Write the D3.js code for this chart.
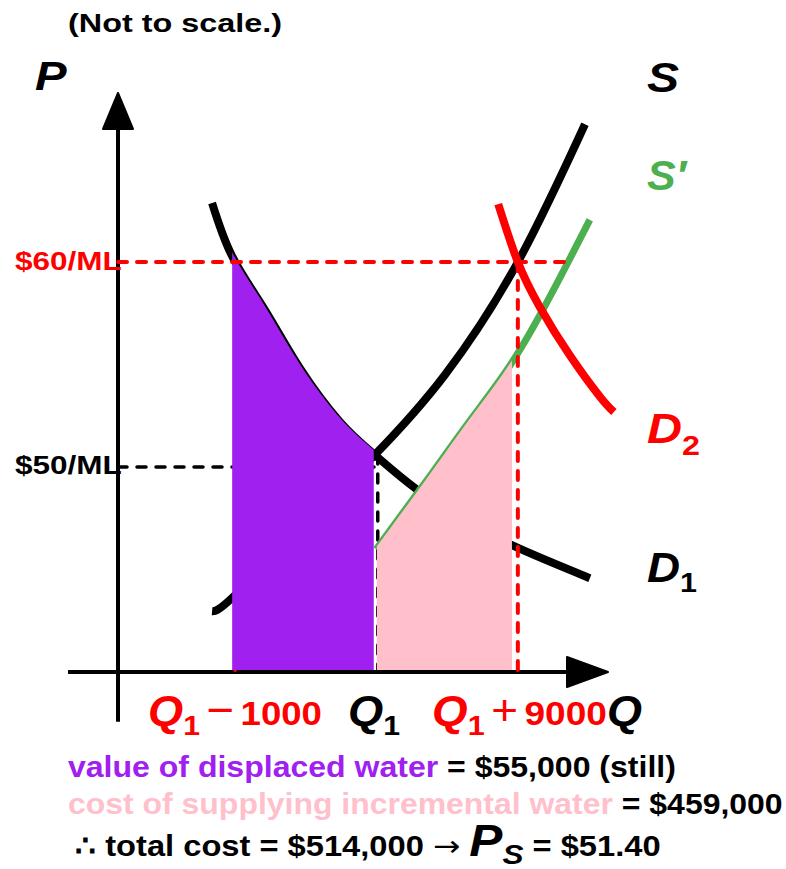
<!DOCTYPE html>
<html>
<head>
<meta charset="utf-8">
<script src="https://cdn.jsdelivr.net/npm/d3@7"></script>
<style>
  html, body { margin: 0; padding: 0; background: #fff; }
  svg { display: block; font-family: "Liberation Sans", Arial, Helvetica, sans-serif; font-weight: bold; }
</style>
</head>
<body>
<div id="chart"></div>
<script>
// Water supply: displaced water + incremental supply (not to scale)

// curve data (abstract Q / P units, 0..100)
const supplyQ = [19.2, 23.3, 37.1, 52.4, 66.7, 81.6, 95.3];
const supplyP = [10.5, 12.8, 24.5, 37.5, 51.3, 70.8, 94.6];

const demand1Q = [19.2, 23.3, 30.0, 37.1, 45.3, 52.4, 61.2, 70.8, 80.4, 96.3];
const demand1P = [81.0, 71.8, 62.5, 52.5, 43.2, 37.5, 31.4, 26.3, 21.9, 16.2];

const supply2Q = [52.7, 63.7, 71.8, 80.2, 88.2, 96.3];
const supply2P = [21.2, 33.9, 43.4, 53.2, 64.9, 78.1];

const demand2Q = [77.6, 81.6, 86.1, 92.2, 98.4, 101.2];
const demand2P = [80.8, 70.8, 63.0, 54.7, 47.5, 44.9];

// key quantities / prices
const qLow = 23.3;      // Q1 - 1000
const q1 = 52.4;        // Q1
const qHigh = 81.6;     // Q1 + 9000
const qPinkEnd = 80.4;  // end of incremental supply area
const p60 = 70.8;
const p50 = 35.4;
const priceLabels = ["$60/ML", "$50/ML"];

const width = 786, height = 869;
const purple = "#a020f0", pink = "#ffc0cb", green = "#4caf50", red = "#ff0000";

const svg = d3.select("#chart").append("svg")
    .attr("width", width)
    .attr("height", height);

const x = d3.scaleLinear().domain([0, 100]).range([118, 608]);
const y = d3.scaleLinear().domain([0, 100]).range([672, 93]);

const pts = (qs, ps) => qs.map((q, i) => [q, ps[i]]);
const line = d3.line().x(d => x(d[0])).y(d => y(d[1])).curve(d3.curveNatural);
// fill areas sit a little above the curve centre so they cover the stroke
const areaAbove = lift => d3.area()
    .x(d => x(d[0])).y0(y(0) + 10).y1(d => y(d[1]) - lift)
    .curve(d3.curveNatural);

const defs = svg.append("defs");
defs.append("clipPath").attr("id", "clip-purple")
    .append("rect")
    .attr("x", x(qLow)).attr("y", 0)
    .attr("width", x(q1) - 1 - x(qLow)).attr("height", y(0) - 2);
defs.append("clipPath").attr("id", "clip-pink")
    .append("rect")
    .attr("x", x(q1) + 2).attr("y", 0)
    .attr("width", x(qPinkEnd) - x(q1) - 2).attr("height", y(0) - 2);

// ── axes ──
const axes = svg.append("g").attr("stroke", "#000").attr("stroke-width", 4);
axes.append("line")
    .attr("x1", x(-10.2)).attr("x2", x(98))
    .attr("y1", y(0)).attr("y2", y(0));
axes.append("line")
    .attr("x1", x(0)).attr("x2", x(0))
    .attr("y1", y(-8.6)).attr("y2", y(94));
axes.append("path")
    .attr("fill", "#000").attr("stroke-width", 2).attr("stroke-linejoin", "round")
    .attr("d", `M${x(100)},${y(0)} L${x(100) - 41},${y(0) - 15} L${x(100) - 41},${y(0) + 15} Z`);
axes.append("path")
    .attr("fill", "#000").attr("stroke-width", 2).attr("stroke-linejoin", "round")
    .attr("d", `M${x(0)},${y(100)} L${x(0) - 15},${y(100) + 36} L${x(0) + 15},${y(100) + 36} Z`);

// ── dashed guides below the areas ──
const dash = (g, color, w) => g.append("line")
    .attr("stroke", color).attr("stroke-width", w)
    .attr("stroke-dasharray", "9,10").attr("stroke-linecap", "round");

dash(svg, "#000", 3.5)
    .attr("x1", x(0)).attr("x2", x(q1))
    .attr("y1", y(p50)).attr("y2", y(p50));
dash(svg, "#000", 3.5)
    .attr("x1", x(q1) + 3).attr("x2", x(q1) + 3)
    .attr("y1", y(37.5)).attr("y2", y(0));
dash(svg, red, 4)
    .attr("x1", x(qLow) + 3).attr("x2", x(qLow) + 3)
    .attr("y1", y(p60)).attr("y2", y(0));

// ── supply / demand curves ──
svg.append("path").datum(pts(supplyQ, supplyP))
    .attr("d", line).attr("fill", "none").attr("stroke", "#000").attr("stroke-width", 8);
svg.append("path").datum(pts(demand1Q, demand1P))
    .attr("d", line).attr("fill", "none").attr("stroke", "#000").attr("stroke-width", 8);
svg.append("path").datum(pts(supply2Q, supply2P))
    .attr("d", line).attr("fill", "none").attr("stroke", green).attr("stroke-width", 7);

// ── shaded areas ──
svg.append("path").datum(pts(demand1Q, demand1P))
    .attr("d", areaAbove(4)).attr("fill", purple).attr("clip-path", "url(#clip-purple)");
svg.append("path").datum(pts(supply2Q, supply2P))
    .attr("d", areaAbove(2)).attr("fill", pink).attr("clip-path", "url(#clip-pink)");

// ── red guides + D2 ──
dash(svg, red, 4)
    .attr("x1", x(0)).attr("x2", x(92))
    .attr("y1", y(p60)).attr("y2", y(p60));
dash(svg, red, 4)
    .attr("x1", x(qHigh)).attr("x2", x(qHigh))
    .attr("y1", y(p60)).attr("y2", y(0));

svg.append("path").datum(pts(demand2Q, demand2P))
    .attr("d", line).attr("fill", "none").attr("stroke", red).attr("stroke-width", 8);

// ── text (stretched horizontally to fit measured widths) ──
function label(left, right, baseline, parts) {
    const g = svg.append("g");
    const t = g.append("text");
    let shift = 0;
    parts.forEach(p => {
        const dy = (p.sub || 0) - shift;
        shift = p.sub || 0;
        const ts = t.append("tspan")
            .attr("dy", dy)
            .attr("font-size", p.size)
            .attr("font-style", p.italic ? "italic" : "normal")
            .attr("font-weight", p.light ? "normal" : "bold")
            .attr("fill", p.fill || "#000")
            .attr("xml:space", "preserve")
            .text(p.t);
        if (p.family) ts.attr("font-family", p.family);
    });
    const b = g.node().getBBox();
    const s = (right - left) / b.width;
    t.attr("transform", `translate(${left - b.x * s},${baseline}) scale(${s},1)`);
}

label(68, 282, 32, [{ t: "(Not to scale.)", size: 26 }]);
label(35, 67, 90, [{ t: "P", size: 40, italic: true }]);
label(647, 679, 92, [{ t: "S", size: 42, italic: true }]);
label(647, 688, 190, [{ t: "S\u2032", size: 42, italic: true, fill: green }]);
label(647, 700, 443, [
    { t: "D", size: 42, italic: true, fill: red },
    { t: "2", size: 28, fill: red, sub: 12 }
]);
label(647, 697, 582, [
    { t: "D", size: 42, italic: true },
    { t: "1", size: 28, sub: 10 }
]);
label(15, 122, 270, [{ t: priceLabels[0], size: 26, fill: red }]);
label(15, 122, 474, [{ t: priceLabels[1], size: 26 }]);

label(148, 322, 725, [
    { t: "Q", size: 42, italic: true, fill: red },
    { t: "1", size: 28, fill: red, sub: 10 },
    { t: "\u2009", size: 30, fill: red },
    { t: "\u2212", size: 44, fill: red, light: true },
    { t: "\u2009", size: 30, fill: red },
    { t: "1000", size: 34, fill: red }
]);
label(348, 400, 725, [
    { t: "Q", size: 42, italic: true },
    { t: "1", size: 28, sub: 10 }
]);
label(432, 607, 725, [
    { t: "Q", size: 42, italic: true, fill: red },
    { t: "1", size: 28, fill: red, sub: 10 },
    { t: "\u2009", size: 30, fill: red },
    { t: "+", size: 42, fill: red, light: true },
    { t: "\u2009", size: 30, fill: red },
    { t: "9000", size: 34, fill: red }
]);
label(607, 642, 725, [{ t: "Q", size: 42, italic: true }]);

label(68, 676, 777, [
    { t: "value of displaced water", size: 29, fill: purple },
    { t: " = $55,000 (still)", size: 29 }
]);
label(68, 783, 814, [
    { t: "cost of supplying incremental water", size: 29, fill: pink },
    { t: " = $459,000", size: 29 }
]);
label(75, 660, 856, [
    { t: "\u2234 total cost = $514,000 ", size: 29 },
    { t: "\u2192", size: 29, light: true, family: "DejaVu Sans" },
    { t: " ", size: 29 },
    { t: "P", size: 44, italic: true },
    { t: "S", size: 28, italic: true, sub: 8 },
    { t: " = $51.40", size: 29 }
]);
</script>
</body>
</html>
